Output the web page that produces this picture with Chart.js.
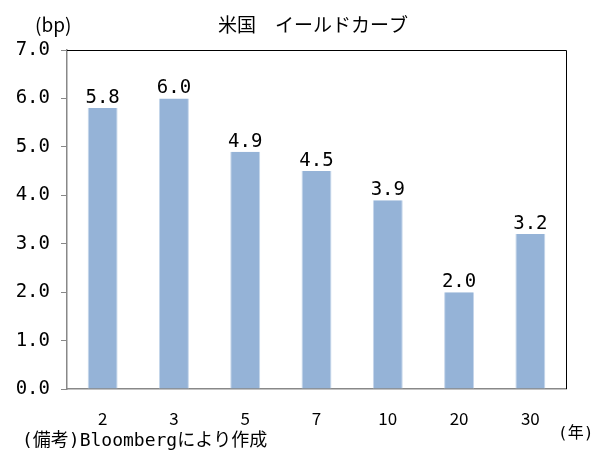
<!DOCTYPE html>
<html>
<head>
<meta charset="utf-8">
<script src="https://cdn.jsdelivr.net/npm/chart.js"></script>
<style>
  body { margin: 0; background: #fff; }
  #wrap { width: 609px; height: 455px; position: relative; }
</style>
</head>
<body>
<div id="wrap"><canvas id="curve"></canvas></div>
<script>
  const maturities = ['2', '3', '5', '7', '10', '20', '30'];
  const spreads = [5.8, 6.0, 4.9, 4.5, 3.9, 2.0, 3.2];
  const yTicks = [0, 1, 2, 3, 4, 5, 6, 7];

  const monoJp = '"DejaVu Sans Mono", "Noto Sans CJK JP", monospace';
  const jp = '"Noto Sans CJK JP", sans-serif';

  // Excel-ish decorations: frame on top/right, value labels, captions
  const decorations = {
    id: 'decorations',
    afterDatasetsDraw: (chart) => {
      const ctx = chart.ctx;
      const area = chart.chartArea;
      ctx.save();
      ctx.strokeStyle = '#000';
      ctx.lineWidth = 1;
      ctx.beginPath();
      ctx.moveTo(area.left, area.top + 0.5);
      ctx.lineTo(area.right + 0.5, area.top + 0.5);
      ctx.lineTo(area.right + 0.5, area.bottom);
      ctx.stroke();

      ctx.fillStyle = '#000';
      ctx.font = '19px ' + monoJp;
      ctx.textAlign = 'center';
      ctx.textBaseline = 'alphabetic';
      chart.getDatasetMeta(0).data.forEach((bar, i) => {
        ctx.fillText(spreads[i].toFixed(1), bar.x, bar.y - 5);
      });

      ctx.font = '19px ' + jp;
      ctx.textBaseline = 'middle';
      ctx.fillText('米国　イールドカーブ', 313, 25);

      ctx.font = '19px ' + jp;
      ctx.textAlign = 'left';
      ctx.fillText('(bp)', 35, 25);
      ctx.font = '16px ' + monoJp;
      ctx.fillText('(年)', 558, 434);

      ctx.font = '18px ' + monoJp;
      ctx.fillText('(備考)Bloombergにより作成', 22, 441);
      ctx.restore();
    }
  };

  new Chart(document.getElementById('curve'), {
    type: 'bar',
    data: {
      labels: maturities,
      datasets: [{
        data: spreads,
        backgroundColor: '#95B3D7',
        borderColor: '#C5D6EA',
        borderWidth: { left: 1, right: 1, top: 0, bottom: 0 },
        barPercentage: 0.6,
        categoryPercentage: 0.7
      }]
    },
    options: {
      responsive: true,
      maintainAspectRatio: false,
      animation: false,
      layout: { padding: { left: 0, top: 50, right: 43, bottom: 0 } },
      plugins: {
        legend: { display: false },
        tooltip: { enabled: false }
      },
      scales: {
        x: {
          grid: { display: false },
          border: { display: true, color: '#888', width: 1.5 },
          ticks: { color: '#000', padding: 11, font: { family: jp, size: 17 } },
          afterFit: (scale) => { scale.height = 66; }
        },
        y: {
          min: 0,
          max: 7,
          afterBuildTicks: (scale) => { scale.ticks = yTicks.map(v => ({ value: v })); },
          grid: { drawOnChartArea: false, drawTicks: true, tickLength: 6, color: '#888' },
          border: { display: true, color: '#888', width: 1.5 },
          ticks: {
            color: '#000',
            padding: 11,
            font: { family: monoJp, size: 19 },
            callback: (v) => Number(v).toFixed(1)
          },
          afterFit: (scale) => { scale.width = 67; }
        }
      }
    },
    plugins: [decorations]
  });
</script>
</body>
</html>
